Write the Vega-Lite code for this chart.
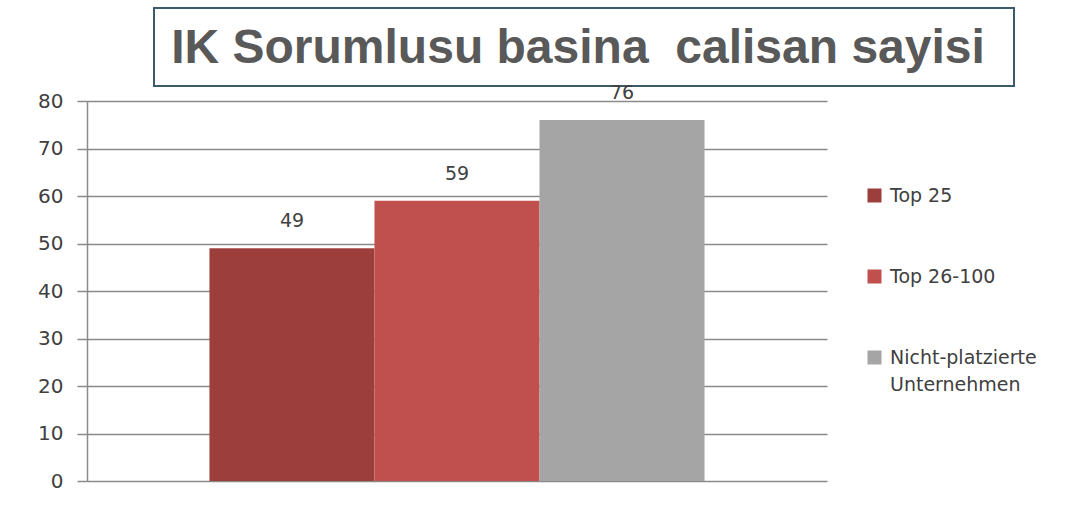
{
  "$schema": "https://vega.github.io/schema/vega-lite/v6.json",
  "background": "white",
  "padding": {"left": 37, "top": 7, "right": 0, "bottom": 0},
  "spacing": -3,
  "config": {"font": "DejaVu Sans", "style": {"guide-label": {"lineHeight": 27}}},
  "vconcat": [
    {
      "spacing": 20,
      "hconcat": [
        {
          "width": 46,
          "height": 78,
          "data": {"values": [{"t": ""}]},
          "mark": {"type": "text"},
          "encoding": {"text": {"field": "t"}},
          "view": {"stroke": null}
        },
        {
          "width": 860,
          "height": 78,
          "data": {"values": [{"title": "IK Sorumlusu basina\u00a0 calisan sayisi"}]},
          "mark": {"type": "text", "font": "Liberation Sans", "fontWeight": "bold", "fontSize": 48, "color": "#595959", "baseline": "middle", "dy": 2, "dx": -6},
          "encoding": {"text": {"field": "title"}},
          "view": {"stroke": "#3b5b69", "strokeWidth": 2}
        }
      ]
    },
    {
      "width": 740,
      "height": 380,
      "data": {"values": [
        {"series": "Top 25", "value": 49},
        {"series": "Top 26-100", "value": 59},
        {"series": "Nicht-platzierte Unternehmen", "value": 76}
      ]},
      "view": {"stroke": null},
      "encoding": {
        "x": {"field": "series", "type": "nominal", "sort": null, "axis": null, "scale": {"paddingInner": 0, "paddingOuter": 0.742}},
        "y": {"field": "value", "type": "quantitative", "scale": {"domain": [0, 80]},
          "axis": {"values": [0, 10, 20, 30, 40, 50, 60, 70, 80], "title": null, "grid": true,
            "gridColor": "#8a8a8a", "gridWidth": 1.5, "gridOpacity": 1,
            "domainColor": "#8a8a8a", "domainWidth": 1.5,
            "tickColor": "#8a8a8a", "tickWidth": 1.5, "tickSize": 10,
            "labelPadding": 14, "labelFont": "DejaVu Sans", "labelFontSize": 20, "labelColor": "#404040"}}
      },
      "layer": [
        {
          "mark": {"type": "bar"},
          "encoding": {
            "color": {"field": "series", "type": "nominal", "sort": null,
              "scale": {"domain": ["Top 25", "Top 26-100", "Nicht-platzierte Unternehmen"], "range": ["#9c3f3c", "#c0504d", "#a5a5a5"]},
              "legend": {"orient": "none", "legendX": 778, "legendY": 178, "title": null, "padding": 0,
                "symbolType": "square", "symbolSize": 196, "symbolStrokeWidth": 0,
                "labelFont": "DejaVu Sans", "labelFontSize": 19, "labelColor": "#404040", "labelOffset": 6,
                "rowPadding": 61,
                "labelExpr": "datum.label == 'Nicht-platzierte Unternehmen' ? ['Nicht-platzierte', 'Unternehmen'] : datum.label"}
            }
          }
        },
        {
          "mark": {"type": "text", "dy": -27, "fontSize": 19, "color": "#404040", "baseline": "middle", "font": "DejaVu Sans"},
          "encoding": {"text": {"field": "value", "type": "quantitative"}}
        }
      ]
    }
  ]
}
